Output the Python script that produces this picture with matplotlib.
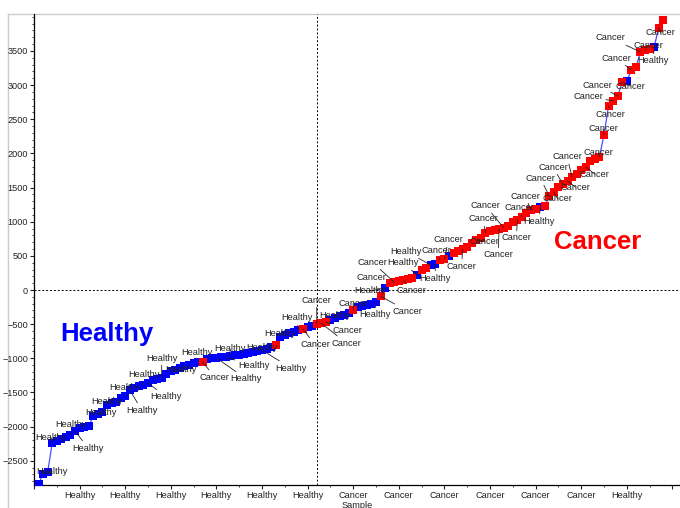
import matplotlib
matplotlib.use("Agg")
import matplotlib.pyplot as plt
from matplotlib.ticker import FixedLocator, MultipleLocator
from matplotlib.lines import Line2D

# ----------------------------
# data: sorted sample scores (1..N) and class code per sample
# ----------------------------
scores = [
    -2840, -2690, -2665, -2240, -2210, -2180, -2150, -2125, -2065, -2020,
    -2005, -1990, -1845, -1815, -1785, -1685, -1655, -1640, -1580, -1550,
    -1465, -1435, -1405, -1390, -1360, -1320, -1305, -1290, -1230, -1185,
    -1170, -1140, -1110, -1100, -1070, -1060, -1055, -1010, -995, -995,
    -980, -980, -965, -950, -950, -935, -920, -905, -895, -880,
    -865, -835, -805, -690, -660, -630, -615, -585, -570, -540,
    -525, -500, -485, -470, -440, -410, -385, -360, -330, -295,
    -250, -235, -220, -205, -175, -90, 30, 100, 115, 130,
    145, 160, 175, 220, 290, 320, 365, 380, 440, 455,
    500, 540, 570, 600, 630, 690, 730, 760, 835, 865,
    880, 895, 910, 935, 995, 1025, 1070, 1125, 1170, 1185,
    1215, 1230, 1375, 1435, 1510, 1550, 1595, 1655, 1700, 1755,
    1800, 1890, 1920, 1950, 2270, 2695, 2770, 2840, 3045, 3060,
    3220, 3265, 3485, 3510, 3530, 3560, 3840, 3960,
]
codes = ("HHHHHHHHHH" "HHHHHHHHHH" "HHHHHHHHHH" "HHHHHHCHHH" "HHHHHHHHHH"
         "HHCHHHHHCH" "HCCCHHHHHC" "HHHHHCHCCC" "CCCHCCHHCC" "HCCCCCCCCC"
         "CCCCCCCCCC" "HCCCCCCCCC" "CCCCCCCCCH" "CCCCCHCC")
class_names = {"H": "Healthy", "C": "Cancer"}
cursor_x = 62.1
cursor_y = 0
y_ticks = [-2500, -2000, -1500, -1000, -500, 0, 500, 1000, 1500, 2000, 2500, 3000, 3500]
x_ticks = [0, 10, 20, 30, 40, 50, 60, 70, 80, 90, 100, 110, 120, 130, 140]

# labelled samples (sample number) and label offsets in pixels
ann_idx = [2, 4, 9, 8, 14, 17, 21, 20, 24, 25, 28, 31, 36, 37, 40, 42, 43, 49, 50, 55,
           58, 59, 62, 63, 64, 66, 70, 75, 76, 77, 78, 79, 81, 84, 87, 88, 89, 90, 94, 97,
           99, 103, 102, 106, 107, 109, 111, 113, 114, 116, 118, 117, 121, 124, 125, 126,
           127, 128, 129, 131, 133, 134, 136, 137]
ann_off = [(9, 2), (-1, 5), (13, -17), (0, 11), (3, 1), (-5, 2), (12, -20), (0, 8), (0, 10), (18, -14),
           (0, 20), (6, 0), (-1, 10), (12, -15), (30, -21), (28, -9), (0, 7), (4, 4), (29, -18), (-5, 2),
           (-2, 12), (12, -16), (0, 24), (25, -20), (22, -8), (0, 3), (0, 7), (-1, -13), (27, -15), (-15, -3),
           (-18, 6), (-22, 20), (8, -10), (-14, 12), (-25, 14), (0, -14), (-3, 9), (4, 19), (-1, -17), (8, -1),
           (-2, 14), (-18, 22), (-1, -26), (-1, -18), (-2, 9), (-6, 14), (-1, -14), (-9, 18), (4, -7),
           (-10, 17), (-5, 20), (8, -6), (9, -7), (-1, 4), (-1, 6), (2, -9), (-25, 4), (-20, 11), (8, -4),
           (-15, 12), (-30, 14), (3, 5), (-1, -14), (2, -5)]

colors = {"H": "#0000ff", "C": "#ff0000"}
FONT = "Liberation Sans"

samples = list(range(1, len(scores) + 1))

fig = plt.figure(figsize=(6.8, 5.08), dpi=100)

# outer control border (behind the axes)
fig.add_artist(Line2D([8 / 680, 1], [1 - 14 / 508, 1 - 14 / 508], color="#cccccc", lw=1, zorder=-1))
fig.add_artist(Line2D([8 / 680, 8 / 680], [0, 1 - 14 / 508], color="#cccccc", lw=1, zorder=-1))

ax = fig.add_axes([34 / 680, 23 / 508, 646 / 680, 471 / 508])
ax.patch.set_alpha(0)

# connecting line then square markers
ax.plot(samples, scores, color="#4b4bff", lw=0.9, zorder=2)
for c in "HC":
    xs = [s for s, k in zip(samples, codes) if k == c]
    ys = [v for v, k in zip(scores, codes) if k == c]
    ax.plot(xs, ys, ls="none", marker="s", ms=6.4, mew=0, color=colors[c], zorder=3)

# cursor crosshair
ax.axvline(cursor_x, color="black", lw=0.7, ls=(0, (2, 2)), zorder=1)
ax.axhline(cursor_y, color="black", lw=0.7, ls=(0, (2, 2)), zorder=1)

# sample labels with leader lines
for i, (dx, dy) in zip(ann_idx, ann_off):
    ax.annotate(class_names[codes[i - 1]], xy=(i, scores[i - 1]), xytext=(dx, dy),
                textcoords="offset pixels", ha="center", va="center",
                fontsize=6.7, family=FONT, color="#222222", zorder=4,
                arrowprops=dict(arrowstyle="-", color="#222222", lw=0.6,
                                shrinkA=0, shrinkB=0))

ax.text(0.113, 0.321, "Healthy", transform=ax.transAxes, ha="center", va="center",
        fontsize=18.5, fontweight="bold", family=FONT, color="#0000ff")
ax.text(0.873, 0.516, "Cancer", transform=ax.transAxes, ha="center", va="center",
        fontsize=18.5, fontweight="bold", family=FONT, color="#ff0000")

ax.set_xlim(0, 646 / 4.56)
ax.set_ylim(-2855, 4041)

ax.xaxis.set_major_locator(FixedLocator(x_ticks))
ax.xaxis.set_minor_locator(MultipleLocator(5))
ax.set_xticklabels([class_names[codes[t - 1]] if 1 <= t <= len(codes) else "" for t in x_ticks])
ax.yaxis.set_major_locator(FixedLocator(y_ticks))
ax.yaxis.set_minor_locator(MultipleLocator(100))

ax.tick_params(which="major", length=3, width=0.8, labelsize=6.6, pad=1.2, colors="#222222")
ax.tick_params(which="minor", length=1.5, width=0.6, colors="#222222")
for lab in ax.get_xticklabels() + ax.get_yticklabels():
    lab.set_family(FONT)

ax.set_xlabel("Sample", fontsize=6.7, family=FONT, labelpad=0.5, color="#222222")

for side in ("top", "right"):
    ax.spines[side].set_visible(False)
for side in ("left", "bottom"):
    ax.spines[side].set_linewidth(0.9)

fig.savefig("out.png", dpi=100)
